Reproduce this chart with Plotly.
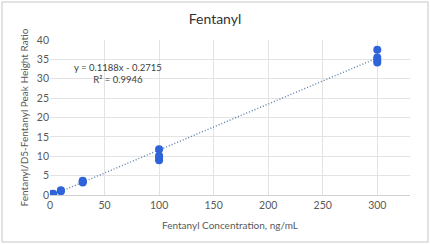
import plotly.graph_objects as go

conc = [0.5, 1, 2, 3, 10, 10, 30, 30, 30, 100, 100, 100, 100, 300, 300, 300, 300]
ratio = [0.1, 0.15, 0.25, 0.3, 1.0, 1.2, 3.2, 3.4, 3.7, 9.0, 9.6, 10.1, 11.8, 34.2, 34.8, 35.5, 37.5]
slope = 0.1188
intercept = -0.2715
r2 = 0.9946
trend_x = [0, 300]
trend_y = [slope * x + intercept for x in trend_x]

W, H = 430, 244
L, R, T, B = 50, 20, 40, 49
pw, ph = W - L - R, H - T - B

fig = go.Figure()
fig.add_trace(go.Scatter(x=trend_x, y=trend_y, mode="lines",
                         line=dict(color="#5B7FA8", width=1.4, dash="1px,2px"),
                         showlegend=False, hoverinfo="skip"))
fig.add_trace(go.Scatter(x=conc, y=ratio, mode="markers",
                         marker=dict(color="#2E63D9", size=8),
                         showlegend=False))

font = "Lato, 'Open Sans', sans-serif"
fig.update_layout(
    width=W, height=H,
    margin=dict(l=L, r=R, t=T, b=B),
    paper_bgcolor="white", plot_bgcolor="white",
    font=dict(family=font, color="#595959", size=10),
    title=dict(text="Fentanyl", x=0.5, xanchor="center", y=1 - 19 / H, yanchor="middle",
               font=dict(size=14, color="#333333", family=font)),
    xaxis=dict(range=[0, 330], tickvals=[0, 50, 100, 150, 200, 250, 300],
               showgrid=True, gridcolor="#E3E3E3", gridwidth=1, zeroline=False,
               showline=True, linecolor="#D0D0D0", linewidth=1,
               ticks="", tickfont=dict(size=10.5, color="#595959"),
               title=dict(text="Fentanyl Concentration, ng/mL", standoff=12,
                          font=dict(size=10, color="#595959"))),
    yaxis=dict(range=[0, 40], tickvals=[0, 5, 10, 15, 20, 25, 30, 35, 40],
               showgrid=True, gridcolor="#E3E3E3", gridwidth=1, zeroline=False,
               showline=False, ticks="", tickfont=dict(size=10.5, color="#595959"),
               title=dict(text="Fentanyl/D5-Fentanyl Peak Height Ratio", standoff=6,
                          font=dict(size=10, color="#595959"))),
    annotations=[
        dict(text=f"y = {slope}x - {abs(intercept)}<br>R² = {r2}", xref="paper", yref="paper",
             x=(118 - L) / pw, y=(195 - 73) / ph, xanchor="center", yanchor="middle",
             showarrow=False, align="center", font=dict(size=9.5, color="#404040", family=font)),
    ],
    shapes=[dict(type="rect", xref="paper", yref="paper",
                 x0=(2 - L) / pw, x1=(428 - L) / pw, y0=(195 - 242) / ph, y1=(195 - 2) / ph,
                 line=dict(color="#DADADA", width=1.5), fillcolor="rgba(0,0,0,0)", layer="below")],
)

fig.write_html("out.html")
